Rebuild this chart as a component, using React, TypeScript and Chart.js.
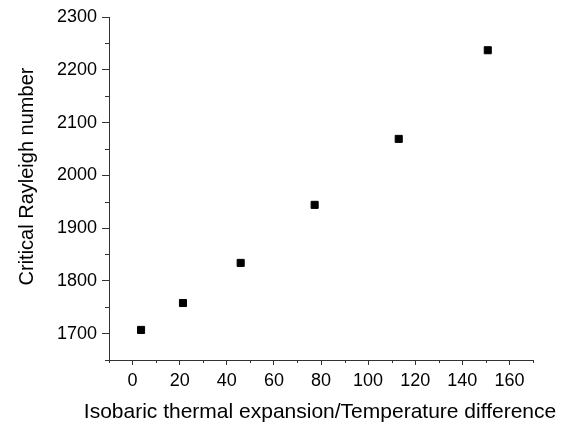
import React, { useEffect, useRef } from "react";
import { Chart, registerables } from "chart.js";

Chart.register(...registerables);

const xValues = [3.6, 21.4, 45.9, 77.3, 113, 150.8];
const yValues = [1707, 1758, 1834, 1944, 2069, 2237];
const xTitle = "Isobaric thermal expansion/Temperature difference";
const yTitle = "Critical Rayleigh number";
const xMin = -10, xMax = 170, xMinorStep = 10, xMajorStep = 20;
const yMin = 1650, yMax = 2300, yMinorStep = 50, yMajorStep = 100;

const AXIS = "#333333";
const FONT = "'Liberation Sans', Arial, sans-serif";

const minorTicks = {
  id: "minorTicks",
  afterDraw(chart: any) {
    const ctx = chart.ctx;
    const xs = chart.scales.x;
    const ys = chart.scales.y;
    ctx.save();
    ctx.strokeStyle = AXIS;
    ctx.lineWidth = 1;
    ctx.beginPath();
    xs.ticks.forEach((t: any) => {
      if (t.value % xMajorStep !== 0 || t.value < 0 || t.value > 160) {
        const px = Math.round(xs.getPixelForValue(t.value)) + 0.5;
        ctx.moveTo(px, xs.top);
        ctx.lineTo(px, xs.top + 3);
      }
    });
    ys.ticks.forEach((t: any) => {
      if (t.value % yMajorStep !== 0) {
        const py = Math.round(ys.getPixelForValue(t.value)) + 0.5;
        ctx.moveTo(ys.right, py);
        ctx.lineTo(ys.right - 4, py);
      }
    });
    ctx.stroke();
    ctx.restore();
  },
};

const axisTitles = {
  id: "axisTitles",
  afterDraw(chart: any) {
    const ctx = chart.ctx;
    const xs = chart.scales.x;
    const ys = chart.scales.y;
    ctx.save();
    ctx.fillStyle = "#000";
    ctx.textAlign = "center";
    ctx.textBaseline = "alphabetic";
    // x title
    ctx.font = `21px ${FONT}`;
    ctx.fillText(xTitle, (xs.left + xs.right) / 2 - 1, 418);
    // y title
    ctx.translate(32.5, (ys.top + ys.bottom) / 2 - 12);
    ctx.rotate(-Math.PI / 2);
    ctx.font = `20px ${FONT}`;
    ctx.fillText(yTitle, 0, 0);
    ctx.restore();
  },
};

export default function App() {
  const ref = useRef<HTMLCanvasElement>(null);
  useEffect(() => {
    document.body.style.margin = "0";
    const chart = new Chart(ref.current!, {
      type: "scatter",
      data: {
        datasets: [
          {
            data: xValues.map((x, i) => ({ x, y: yValues[i] })),
            pointStyle: "rect",
            pointRadius: 5,
            backgroundColor: "#000",
            borderColor: "#000",
            borderWidth: 1,
          },
        ],
      },
      plugins: [minorTicks, axisTitles],
      options: {
        responsive: false,
        animation: false,
        layout: { padding: { top: 17, right: 36, left: 0, bottom: 0 } },
        plugins: { legend: { display: false }, tooltip: { enabled: false } },
        scales: {
          x: {
            type: "linear",
            min: xMin,
            max: xMax,
            afterFit: (s: any) => { s.height = 63; },
            border: { display: true, color: AXIS, width: 1 },
            grid: {
              drawOnChartArea: false,
              drawTicks: true,
              tickLength: 5,
              tickColor: (c: any) => {
                const v = c.tick?.value;
                return v % xMajorStep === 0 && v >= 0 && v <= 160 ? AXIS : "rgba(0,0,0,0)";
              },
            },
            ticks: {
              stepSize: xMinorStep,
              autoSkip: false,
              maxRotation: 0,
              padding: 5,
              color: "#000",
              font: { family: FONT, size: 18 },
              callback: (v: any) => (v % xMajorStep === 0 && v >= 0 && v <= 160 ? String(v) : ""),
            },
            title: { display: false },
          },
          y: {
            type: "linear",
            min: yMin,
            max: yMax,
            afterFit: (s: any) => { s.width = 109; },
            border: { display: true, color: AXIS, width: 1 },
            grid: {
              drawOnChartArea: false,
              drawTicks: true,
              tickLength: 7,
              tickColor: (c: any) => (c.tick?.value % yMajorStep === 0 ? AXIS : "rgba(0,0,0,0)"),
            },
            ticks: {
              stepSize: yMinorStep,
              autoSkip: false,
              padding: 5,
              color: "#000",
              font: { family: FONT, size: 18 },
              callback: (v: any) => (v % yMajorStep === 0 ? String(v) : ""),
            },
            title: { display: false },
          },
        },
      },
    });
    return () => chart.destroy();
  }, []);
  return (
    <div style={{ width: 569, height: 423 }}>
      <canvas ref={ref} width={569} height={423} />
    </div>
  );
}
